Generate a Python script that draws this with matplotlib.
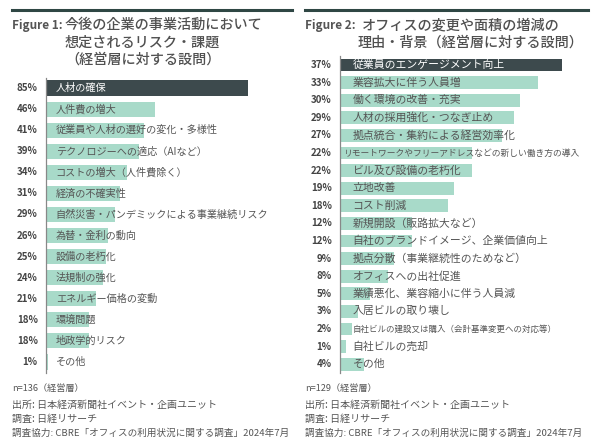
import matplotlib
matplotlib.use("Agg")
import matplotlib.pyplot as plt

plt.rcParams['font.family'] = ['Noto Sans CJK JP', 'DejaVu Sans']

# Figure 1 data
labels1 = ["人材の確保", "人件費の増大", "従業員や人材の選好の変化・多様性",
           "テクノロジーへの適応（AIなど）", "コストの増大（人件費除く）", "経済の不確実性",
           "自然災害・パンデミックによる事業継続リスク", "為替・金利の動向", "設備の老朽化",
           "法規制の強化", "エネルギー価格の変動", "環境問題", "地政学的リスク", "その他"]
values1 = [85, 46, 41, 39, 34, 31, 29, 26, 25, 24, 21, 18, 18, 1]

# Figure 2 data
labels2 = ["従業員のエンゲージメント向上", "業容拡大に伴う人員増", "働く環境の改善・充実",
           "人材の採用強化・つなぎ止め", "拠点統合・集約による経営効率化",
           "リモートワークやフリーアドレスなどの新しい働き方の導入", "ビル及び設備の老朽化",
           "立地改善", "コスト削減", "新規開設（販路拡大など）", "自社のブランドイメージ、企業価値向上",
           "拠点分散（事業継続性のためなど）", "オフィスへの出社促進", "業績悪化、業容縮小に伴う人員減",
           "入居ビルの取り壊し", "自社ビルの建設又は購入（会計基準変更への対応等）", "自社ビルの売却", "その他"]
values2 = [37, 33, 30, 29, 27, 22, 22, 19, 18, 12, 12, 9, 8, 5, 3, 2, 1, 4]

W, H = 600, 438
DARK = "#3d4a4d"
LIGHT = "#a8dac9"
TEXT = "#555555"

fig = plt.figure(figsize=(6, 4.38), dpi=100)


def px_axes(x0, y0, x1, y1):
    return fig.add_axes([x0 / W, 1 - y1 / H, (x1 - x0) / W, (y1 - y0) / H])


def draw_panel(ax, labels, values, xmax, lab_sizes, pct_size):
    n = len(values)
    colors = [DARK] + [LIGHT] * (n - 1)
    ax.barh(range(n), values, height=0.72, color=colors)
    ax.set_xlim(0, xmax)
    ax.set_ylim(n - 0.5, -0.5)
    for s in ["top", "right", "bottom"]:
        ax.spines[s].set_visible(False)
    ax.spines["left"].set_color("#888888")
    ax.spines["left"].set_linewidth(0.9)
    ax.set_xticks([])
    ax.set_yticks([])
    for i, (lab, v) in enumerate(zip(labels, values)):
        c = "white" if i == 0 else TEXT
        size, off = lab_sizes[i]
        ax.annotate(lab, (0, i), xytext=(off, 0), textcoords="offset points",
                    va="center", ha="left", fontsize=size, color=c)
        ax.annotate(f"{v}%", (0, i), xytext=(-6, 0), textcoords="offset points",
                    va="center", ha="right", fontsize=pct_size, color="#444444",
                    fontweight="bold", annotation_clip=False)


ax1 = px_axes(46, 77.5, 292, 372.5)
draw_panel(ax1, labels1, values1, 246 / 2.38, [(7.3, 7)] * len(labels1), 7)

sizes2 = [(7.8, 9)] * len(labels2)
sizes2[5] = (6.3, 2)
sizes2[15] = (6.1, 9)
ax2 = px_axes(340, 56.2, 590, 373)
draw_panel(ax2, labels2, values2, 250 / 6.0, sizes2, 7)

# top rules
fig.add_artist(plt.Line2D([12 / W, 292 / W], [1 - 10 / H] * 2, color="#2f4744", lw=2.2))
fig.add_artist(plt.Line2D([305 / W, 588 / W], [1 - 10 / H] * 2, color="#2f4744", lw=2.2))


def ftext(x, y, s, color=TEXT, **kw):
    fig.text(x / W, 1 - y / H, s, va="center", ha="left", color=color, **kw)


tkw = dict(fontsize=10.2, fontweight="medium", color="#505050")
ftext(12, 25, "Figure 1:", fontsize=8.5, fontweight="bold")
ftext(65, 25, "今後の企業の事業活動において", **tkw)
ftext(65, 43, "想定されるリスク・課題", **tkw)
ftext(65, 60, "（経営層に対する設問）", **tkw)

ftext(305, 25, "Figure 2:", fontsize=8.5, fontweight="bold")
ftext(362, 25, "オフィスの変更や面積の増減の", **tkw)
ftext(358, 43, "理由・背景（経営層に対する設問）", **tkw)

for x0, nlab in [(12, "n=136（経営層）"), (305, "n=129（経営層）")]:
    ftext(x0, 389, nlab, fontsize=6.6)
    ftext(x0, 405, "出所: 日本経済新聞社イベント・企画ユニット", fontsize=7.2)
    ftext(x0, 419, "調査: 日経リサーチ", fontsize=7.2)
    ftext(x0, 433, "調査協力: CBRE「オフィスの利用状況に関する調査」2024年7月", fontsize=6.9)

fig.savefig("out.png", dpi=100, facecolor="white")
